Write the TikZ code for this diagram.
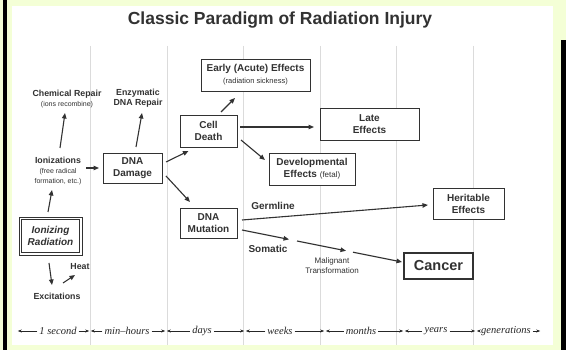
\documentclass[tikz,border=0pt]{standalone}
\usepackage{fontspec}
\setmainfont{Liberation Sans}
\newfontfamily\tlfont{Liberation Serif}
\usetikzlibrary{arrows.meta,calc}
\definecolor{bgyel}{RGB}{244,255,214}
\definecolor{ink}{RGB}{50,50,50}
\newcommand{\smreg}[1]{{\fontsize{7}{8.5}\selectfont\mdseries #1}}
\begin{document}
\begin{tikzpicture}[x=1pt,y=-1pt,
  box/.style={draw=ink, line width=0.8pt, fill=white, align=center, inner sep=1pt, text=ink,
    font=\fontsize{10}{12}\selectfont\bfseries},
  lbl/.style={align=center, inner sep=0pt, text=ink, font=\fontsize{8.8}{10}\selectfont\bfseries},
  arr/.style={draw=ink, line width=1.1pt, -{Triangle[length=5.5pt,width=4.5pt]}},
  tarr/.style={draw=black!85, line width=0.5pt, -{Stealth[length=4pt,width=3pt]}, shorten >=0.8pt},
  tlab/.style={font=\tlfont\itshape\fontsize{10.5}{12}\selectfont, inner sep=2pt, text=black!85},
  grid/.style={draw=black!14, line width=0.5pt}]
\useasboundingbox (0,0) rectangle (566,350);
\fill[bgyel] (0,0) rectangle (566,350);
\fill[black] (3,0) rectangle (7,350);
\fill[black] (561,40) rectangle (566,350);
\fill[white] (12,6) rectangle (553,345);
% faint scan lines
\foreach \gx in {90,167,243,320,396,473}{\draw[grid] (\gx,46) -- (\gx,345);}

% title
\node[text=ink, font=\fontsize{17.5}{20}\selectfont\bfseries] (title) at (280,20) {Classic Paradigm of Radiation Injury};

% boxes
\node[box, minimum width=109pt, minimum height=32pt] (early) at (255.5,75)
  {Early (Acute) Effects\\{\fontsize{7.5}{9}\selectfont\mdseries (radiation sickness)}};
\node[box, minimum width=59pt, minimum height=30pt] (dmg) at (132.5,168) {DNA\\Damage};
\node[box, minimum width=57pt, minimum height=32pt] (cell) at (208.5,131) {Cell\\Death};
\node[box, minimum width=99pt, minimum height=32pt] (late) at (369.5,124) {Late\\Effects};
\node[box, minimum width=86pt, minimum height=32pt] (devel) at (312,169)
  {Developmental\\Effects {\fontsize{8}{9}\selectfont\mdseries (fetal)}};
\node[box, minimum width=57pt, minimum height=30pt] (mut) at (208.5,223) {DNA\\Mutation};
\node[box, minimum width=71pt, minimum height=31pt] (herit) at (468.5,203.5) {Heritable\\Effects};
\node[box, line width=1.4pt, minimum width=69pt, minimum height=26pt,
  font=\fontsize{14.5}{16}\selectfont\bfseries] (cancer) at (438.5,266) {Cancer};
\node[box, minimum width=63pt, minimum height=38pt, font=\fontsize{10}{12}\selectfont\bfseries\itshape]
  (ionrad) at (50.5,236) {Ionizing\\Radiation};
\draw[ink, line width=0.8pt] ([shift={(3,3)}]ionrad.north west) rectangle ([shift={(-3,-3)}]ionrad.south east);

% free labels
\node[lbl] (chem) at (67,99) {Chemical Repair\\\smreg{(ions recombine)}};
\node[lbl] (enz) at (138,98) {Enzymatic\\DNA Repair};
\node[lbl] (ion) at (58,171) {Ionizations\\\smreg{(free radical}\\\smreg{formation, etc.)}};
\node[lbl] (heat) at (80,267) {Heat};
\node[lbl] (exc) at (57,296) {Excitations};
\node[lbl, font=\fontsize{10}{12}\selectfont\bfseries] (germ) at (273,206) {Germline};
\node[lbl, font=\fontsize{10}{12}\selectfont\bfseries] (som) at (268,249) {Somatic};
\node[lbl, font=\fontsize{8}{10}\selectfont\mdseries] (malig) at (332,266) {Malignant\\Transformation};

% connectors
\draw[arr] ([shift={(-2.5,-24)}]ionrad.center) -- ([shift={(-6,19)}]ion.center);
\draw[arr] ([shift={(2,-23)}]ion.center) -- ([shift={(-2,14)}]chem.center);
\draw[arr] ([shift={(28,-3)}]ion.center) -- ([shift={(-33.5,0)}]dmg.center);
\draw[arr] ([shift={(3.5,-21)}]dmg.center) -- ([shift={(4,15)}]enz.center);
\draw[arr] ([shift={(33.5,-6)}]dmg.center) -- ([shift={(-20,20)}]cell.center);
\draw[arr] ([shift={(33.5,8)}]dmg.center) -- ([shift={(-18.5,-21)}]mut.center);
\draw[arr] ([shift={(12.5,-19)}]cell.center) -- ([shift={(-20.5,23)}]early.center);
\draw[arr] ([shift={(31.5,-4)}]cell.center) -- ([shift={(-55.5,3)}]late.center);
\draw[arr] ([shift={(32.5,9)}]cell.center) -- ([shift={(-47,-9)}]devel.center);
\draw[arr] ([shift={(33.5,-3)}]mut.center) -- ([shift={(-40.5,1.5)}]herit.center);
\coordinate (s0) at ([shift={(33.5,7)}]mut.center);
\coordinate (s1) at ([shift={(-36.5,-4)}]cancer.center);
\draw[arr] (s0) -- ($(s0)!0.294!(s1)$);
\draw[arr] ($(s0)!0.344!(s1)$) -- ($(s0)!0.65!(s1)$);
\draw[arr] ($(s0)!0.694!(s1)$) -- (s1);
\draw[arr] ([shift={(-1.5,27)}]ionrad.center) -- ([shift={(-5,-11)}]exc.center);
\draw[arr] ([shift={(6,-13)}]exc.center) -- ([shift={(-5,8)}]heat.center);

% timeline
\foreach \i/\bx in {0/17,1/90,2/166,3/245,4/325,5/404,6/476,7/541}{\coordinate (b\i) at (\bx,331);}
\node[tlab] (t1) at (58,331) {1 second};
\node[tlab] (t2) at (127,331) {min–hours};
\node[tlab] (t3) at (202,331) {days};
\node[tlab] (t4) at (280,331) {weeks};
\node[tlab] (t5) at (361,331) {months};
\node[tlab] (t6) at (436,331) {years};
\node[tlab] (t7) at (506,331) {generations};
\foreach \j [evaluate=\j as \k using int(\j-1)] in {1,...,7}{
  \draw[tarr] (t\j.west) -- (b\k);
  \draw[tarr] (t\j.east) -- (b\j);
}
\end{tikzpicture}
\end{document}
